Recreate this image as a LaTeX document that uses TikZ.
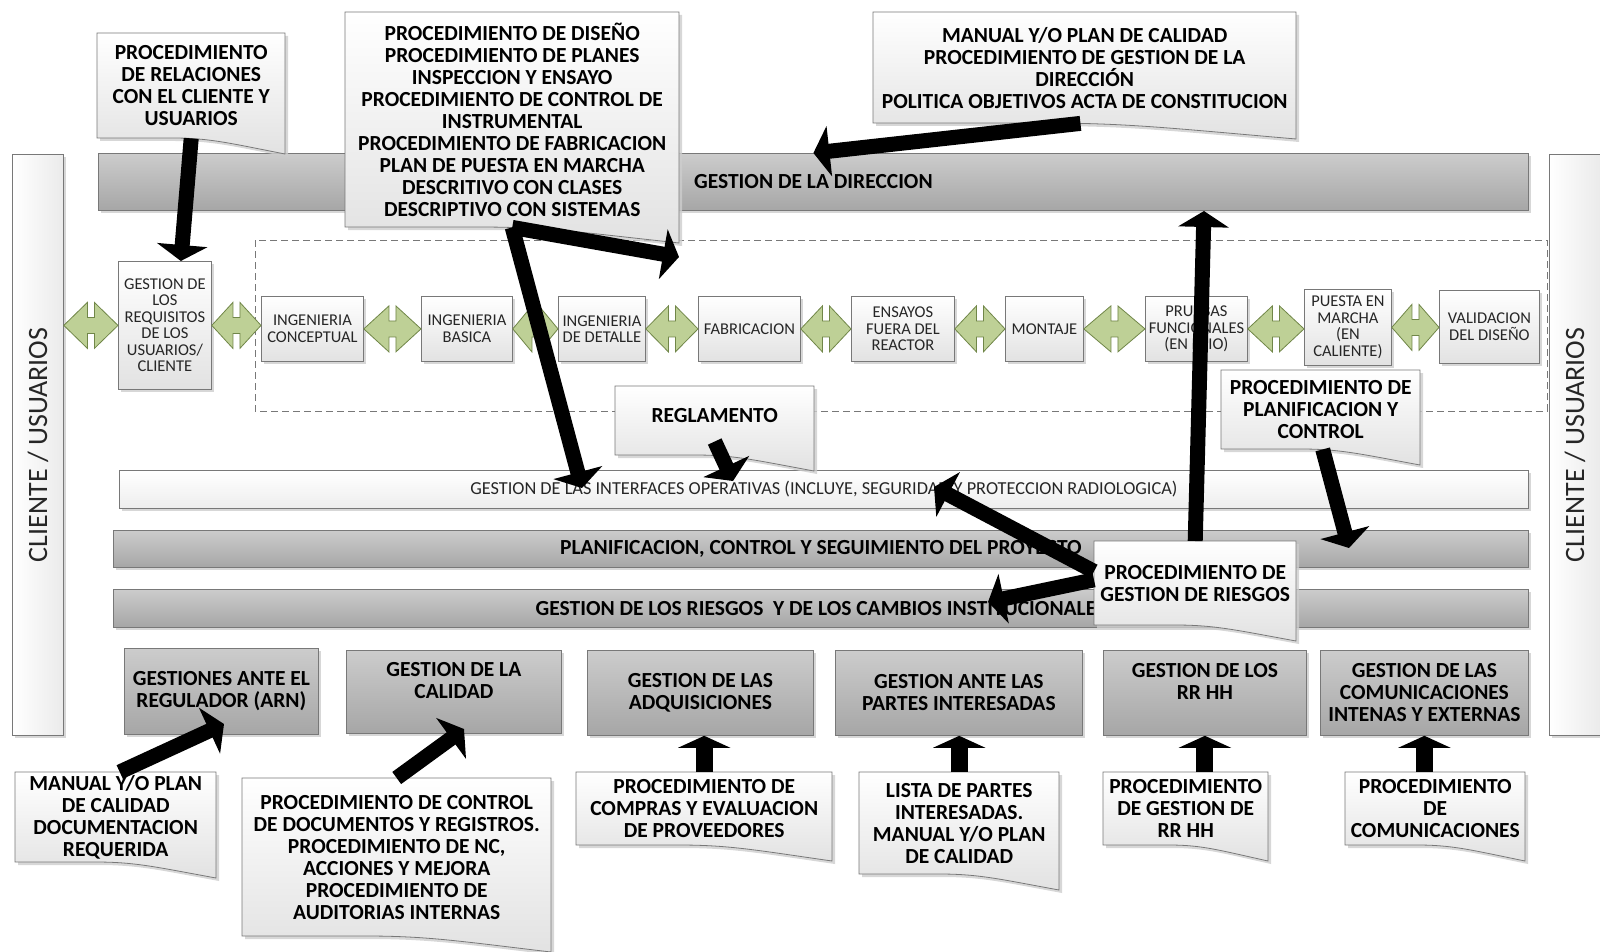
\documentclass[tikz,border=0pt]{standalone}
\usepackage{fontspec}
\setmainfont{Carlito}
\usetikzlibrary{arrows.meta,calc,shadows}

\definecolor{edgegray}{RGB}{120,120,120}
\definecolor{bartop}{RGB}{204,204,204}
\definecolor{barbot}{RGB}{166,166,166}
\definecolor{paperbot}{RGB}{226,226,226}
\definecolor{linkfill}{RGB}{190,208,150}
\definecolor{linkedge}{RGB}{112,134,72}
\definecolor{shadegray}{RGB}{205,205,205}

\newcommand\heavytxt{\fontsize{21.5pt}{22pt}\selectfont\bfseries}
\newcommand\stagetxt{\fontsize{16.5pt}{16.5pt}\selectfont}
\newcommand\bandtxt{\fontsize{18.3pt}{18pt}\selectfont}
\newcommand\sidetxt{\fontsize{28pt}{28pt}\selectfont}

\tikzset{
  boxsize/.style 2 args={minimum width=#1pt, minimum height=#2pt},
  softshadow/.style={drop shadow={shadow xshift=3pt,shadow yshift=-3pt,fill=shadegray,opacity=0.8}},
  graybar/.style={draw=edgegray, line width=0.8pt, top color=bartop, bottom color=barbot,
    softshadow, inner sep=0pt, align=center, font=\heavytxt, anchor=north west},
  lightbar/.style={draw=edgegray, line width=0.8pt, top color=white, bottom color=paperbot!60,
    softshadow, inner sep=0pt, font=\bandtxt, text=black!85, anchor=north west},
  sidebar/.style={draw=edgegray, line width=0.8pt, left color=white, right color=paperbot!70,
    softshadow, inner sep=0pt, font=\sidetxt, text=black!85, anchor=north west},
  stagebox/.style={draw=edgegray, line width=0.8pt, top color=white, bottom color=paperbot,
    softshadow, inner sep=1pt, align=center, font=\stagetxt, text=black!85, anchor=north west},
  docpaper/.style={draw=edgegray, line width=0.8pt, top color=white, bottom color=paperbot, softshadow},
  doctext/.style={inner sep=0pt, align=center, font=\heavytxt, anchor=north west},
  linkshape/.style={fill=linkfill, draw=linkedge, line width=0.8pt, line join=miter},
  stageframe/.style={draw=edgegray, line width=0.8pt, dash pattern=on 7pt off 4pt},
  bigarrow/.style={line width=15pt, -{Triangle[width=50pt,length=16pt]}},
  stubarrow/.style={line width=17pt, -{Triangle[width=52pt,length=12pt]}},
}

% document sheet: name, left, top, right, bottom (left side), text
\newcommand\docsheet[6]{%
  \path[docpaper] (#2,#3) -- (#4,#3) -- (#4,{#5+16})
    .. controls ({#4-0.3*(#4-#2)},{#5+5}) and ({#2+0.6*(#4-#2)},#5) .. ({#2+0.4*(#4-#2)},#5)
    -- (#2,#5) -- cycle;
  \node[doctext, minimum width={(#4-#2)*1pt}, minimum height={(#5-#3)*1pt}] (#1) at (#2,#3) {#6};
}

% green two-way link between two stages
\newcommand\linkpair[2]{%
  \path[linkshape] let \p1=#1, \p2=#2, \n1={0.5*(\x1+\x2)} in
    (\x1,\y1) -- ({\n1*1pt-3.5pt},{\y1+23pt}) -- ({\n1*1pt-3.5pt},{\y1+8pt})
    -- ({\n1*1pt+3.5pt},{\y1+8pt}) -- ({\n1*1pt+3.5pt},{\y1+23pt}) -- (\x2,\y1)
    -- ({\n1*1pt+3.5pt},{\y1-23pt}) -- ({\n1*1pt+3.5pt},{\y1-8pt})
    -- ({\n1*1pt-3.5pt},{\y1-8pt}) -- ({\n1*1pt-3.5pt},{\y1-23pt}) -- cycle;
}

\begin{document}
\begin{tikzpicture}[x=1pt,y=-1pt]
\useasboundingbox (0,0) rectangle (1600,952);

% client columns
\node[sidebar, boxsize={51}{581}] (cliL) at (12,154) {\rotatebox{90}{CLIENTE / USUARIOS}};
\node[sidebar, boxsize={51}{581}] (cliR) at (1549,154) {\rotatebox{90}{CLIENTE / USUARIOS}};

% top management band
\node[graybar, boxsize={1430}{57}] (dir) at (98,153) {GESTION DE LA DIRECCION};

% project life cycle
\path[stageframe] (255,240) rectangle (1547,411);
\node[stagebox, boxsize={93}{128}] (req) at (118,261) {GESTION DE\\LOS\\REQUISITOS\\DE LOS\\USUARIOS/\\CLIENTE};
\node[stagebox, boxsize={102}{65}] (ic) at (261,296) {INGENIERIA\\CONCEPTUAL};
\node[stagebox, boxsize={91}{65}] (ib) at (421,296) {INGENIERIA\\BASICA};
\node[stagebox, boxsize={87}{65}] (idt) at (558,296) {INGENIERIA\\DE DETALLE};
\node[stagebox, boxsize={102}{65}] (fab) at (698,296) {FABRICACION};
\node[stagebox, boxsize={103}{65}] (ens) at (851,296) {ENSAYOS\\FUERA DEL\\REACTOR};
\node[stagebox, boxsize={78}{65}] (mon) at (1005,296) {MONTAJE};
\node[stagebox, boxsize={102}{65}] (pru) at (1145,296) {PRUEBAS\\FUNCIONALES\\(EN FRIO)};
\node[stagebox, boxsize={87}{76}] (pue) at (1304,289) {PUESTA EN\\MARCHA\\(EN\\CALIENTE)};
\node[stagebox, boxsize={100}{73}] (val) at (1439,290) {VALIDACION\\DEL DISEÑO};

\linkpair{(cliL.east |- req.west)}{(req.west)}
\linkpair{(req.east)}{(ic.west)}
\linkpair{(ic.east)}{(ib.west)}
\linkpair{(ib.east)}{(idt.west)}
\linkpair{(idt.east)}{(fab.west)}
\linkpair{(fab.east)}{(ens.west)}
\linkpair{(ens.east)}{(mon.west)}
\linkpair{(mon.east)}{(pru.west)}
\linkpair{(pru.east)}{(pue.west)}
\linkpair{(pue.east)}{(val.west)}

% transversal bands
\node[lightbar, boxsize={1409}{38}] (intf) at (119,470) {GESTION DE LAS INTERFACES OPERATIVAS (INCLUYE, SEGURIDAD Y PROTECCION RADIOLOGICA)};
\node[graybar, boxsize={1415}{37}] (plan) at (113,530) {PLANIFICACION, CONTROL Y SEGUIMIENTO DEL PROYECTO};
\node[graybar, boxsize={1415}{38}] (risk) at (113,589) {GESTION DE LOS RIESGOS\ \ Y DE LOS CAMBIOS INSTITUCIONALES};

% support processes
\node[graybar, boxsize={194}{86}] (reg) at (124,648) {GESTIONES ANTE EL\\REGULADOR (ARN)};
\node[graybar, boxsize={215}{83}] (cal) at (346,650) {GESTION DE LA\\CALIDAD\\\mbox{}};
\node[graybar, boxsize={226}{85}] (adq) at (587,650) {GESTION DE LAS\\ADQUISICIONES};
\node[graybar, boxsize={247}{85}] (par) at (835,650) {GESTION ANTE LAS\\PARTES INTERESADAS};
\node[graybar, boxsize={203}{85}] (rrhh) at (1103,650) {GESTION DE LOS\\RR HH\\\mbox{}};
\node[graybar, boxsize={208}{85}] (com) at (1320,650) {GESTION DE LAS\\COMUNICACIONES\\INTENAS Y EXTERNAS};

% documents
\docsheet{dRel}{97}{33}{285}{138}{PROCEDIMIENTO\\DE RELACIONES\\CON EL CLIENTE Y\\USUARIOS}
\docsheet{dDis}{345}{12}{679}{227}{PROCEDIMIENTO DE DISEÑO\\PROCEDIMIENTO DE PLANES\\INSPECCION Y ENSAYO\\PROCEDIMIENTO DE CONTROL DE\\INSTRUMENTAL\\PROCEDIMIENTO DE FABRICACION\\PLAN DE PUESTA EN MARCHA\\DESCRITIVO CON CLASES\\DESCRIPTIVO CON SISTEMAS}
\docsheet{dMan}{873}{12}{1296}{123}{MANUAL Y/O PLAN DE CALIDAD\\PROCEDIMIENTO DE GESTION DE LA\\DIRECCIÓN\\POLITICA OBJETIVOS ACTA DE CONSTITUCION}
\docsheet{dReg}{615}{386}{814}{455}{\raisebox{10pt}{REGLAMENTO}}
\docsheet{dPlan}{1221}{370}{1420}{449}{PROCEDIMIENTO DE\\PLANIFICACION Y\\CONTROL}
\docsheet{dRiesgo}{1094}{541}{1296}{625}{PROCEDIMIENTO DE\\GESTION DE RIESGOS}
\docsheet{dManual}{15}{772}{216}{862}{MANUAL Y/O PLAN\\DE CALIDAD\\DOCUMENTACION\\REQUERIDA}
\docsheet{dControl}{242}{778}{551}{936}{PROCEDIMIENTO DE CONTROL\\DE DOCUMENTOS Y REGISTROS.\\PROCEDIMIENTO DE NC,\\ACCIONES Y MEJORA\\PROCEDIMIENTO DE\\AUDITORIAS INTERNAS}
\docsheet{dCompras}{576}{772}{832}{845}{PROCEDIMIENTO DE\\COMPRAS Y EVALUACION\\DE PROVEEDORES}
\docsheet{dLista}{859}{772}{1059}{874}{LISTA DE PARTES\\INTERESADAS.\\MANUAL Y/O PLAN\\DE CALIDAD}
\docsheet{dRRHH}{1103}{772}{1268}{845}{PROCEDIMIENTO\\DE GESTION DE\\RR HH}
\docsheet{dCom}{1345}{772}{1525}{845}{PROCEDIMIENTO\\DE\\COMUNICACIONES}

% arrow targets
\coordinate (dsgEnd) at (679,257);
\coordinate (intfA) at (582,488);
\coordinate (intfB) at (733,481);
\coordinate (intfC) at (934,487);
\coordinate (planEnd) at (1349,548);
\coordinate (dirUp) at (1204,211);
\coordinate (riskEnd) at (988,602);
\coordinate (regEnd) at (224,724);
\coordinate (calEnd) at (464,729);

% document flows
\draw[bigarrow] (dRel.south) -- ($(req.north west)!0.67!(req.north east)$);
\draw[bigarrow] (dDis.south) -- (dsgEnd);
\draw[bigarrow] (dDis.south) -- (intfA);
\draw[bigarrow] ($(dMan.south west)!0.49!(dMan.south east)$) -- (dir.north);
\draw[bigarrow] ($(dReg.center)!0.6!(dReg.south)$) -- (intfB);
\draw[bigarrow] ($(dPlan.south west)!0.51!(dPlan.south east)$) -- (planEnd);
\draw[bigarrow] (dRiesgo.north) -- (dirUp);
\draw[bigarrow] ($(dRiesgo.north west)!0.36!(dRiesgo.south west)$) -- (intfC);
\draw[bigarrow] ($(dRiesgo.north west)!0.46!(dRiesgo.south west)$) -- (riskEnd);
\draw[bigarrow] ($(dManual.north west)!0.52!(dManual.north east)$) -- (regEnd);
\draw[bigarrow] (dControl.north) -- (calEnd);
\draw[stubarrow] (dCompras.north) -- (dCompras.north |- adq.south);
\draw[stubarrow] (dLista.north) -- (dLista.north |- par.south);
\draw[stubarrow] (rrhh.south |- dRRHH.north) -- (rrhh.south);
\draw[stubarrow] (com.south |- dCom.north) -- (com.south);
\end{tikzpicture}
\end{document}
